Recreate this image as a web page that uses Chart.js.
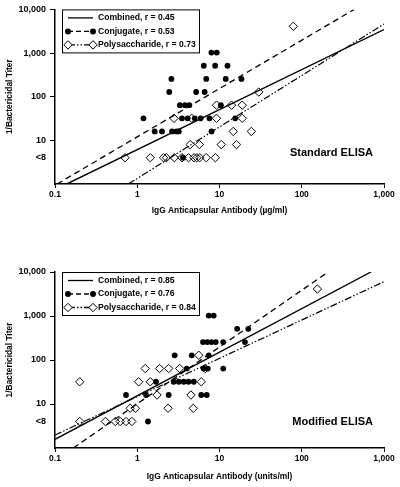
<!DOCTYPE html>
<html>
<head>
<meta charset="utf-8">
<script src="https://cdn.jsdelivr.net/npm/chart.js@4.4.0/dist/chart.umd.min.js"></script>
<style>
body { margin: 0; background: #fff; }
canvas { display: block; }
</style>
</head>
<body>
<canvas id="standard_elisa_chart" width="400" height="240"></canvas>
<canvas id="modified_elisa_chart" width="400" height="247"></canvas>
<script>
// axis ticks (titer "<8" is plotted at 4)
const x_ticks = [0.1, 1, 10, 100, 1000];
const x_tick_labels = ['0.1', '1', '10', '100', '1,000'];
const y_ticks = [4, 10, 100, 1000, 10000];
const y_tick_labels = ['<8', '10', '100', '1,000', '10,000'];

// standard ELISA
const std_conj_x = [7.98, 9.27, 6.44, 8.85, 12.5, 2.6, 6.9, 11.9, 18.5, 2.45, 5.2, 6.6, 3.3, 3.8, 4.3, 10.4,
    1.19, 3.5, 4.1, 5.0, 5.9, 7.55, 15.5, 1.63, 2.0, 2.65, 3.0, 3.2, 8.0, 3.6];
const std_conj_y = [1024, 1024, 512, 512, 512, 256, 256, 256, 256, 128, 128, 128, 64, 64, 64, 64,
    32, 32, 32, 32, 32, 32, 32, 16, 16, 16, 16, 16, 16, 4];
const std_poly_x = [79, 30, 9.2, 14, 18.9, 2.8, 4.6, 9.2, 18.9, 14.7, 24.4, 4.4, 5.7, 10.5, 16.1,
    0.71, 1.44, 2.09, 2.26, 2.82, 3.5, 4.2, 4.9, 5.3, 5.75, 6.9, 8.9];
const std_poly_y = [4096, 128, 64, 64, 64, 32, 32, 32, 32, 16, 16, 8, 8, 8, 8,
    4, 4, 4, 4, 4, 4, 4, 4, 4, 4, 4, 4];
const std_combined_line = [[0.139, 1], [1000, 3450]];
const std_conj_line = [[0.106, 1], [434, 10000]];
const std_poly_line = [[0.78, 1], [1000, 4630]];
const std_legend = ['Combined, r = 0.45', 'Conjugate, r = 0.53', 'Polysaccharide, r = 0.73'];

// modified ELISA
const mod_conj_x = [7.4, 8.5, 16.4, 22.4, 6.3, 7.1, 8.0, 9.0, 11.1, 20.4, 2.85, 4.6, 7.4, 4.0, 6.4, 7.2, 11.1,
    1.69, 2.77, 3.2, 3.67, 4.2, 4.87, 0.73, 1.28, 2.41, 6.0, 7.0, 1.35];
const mod_conj_y = [1024, 1024, 512, 512, 256, 256, 256, 256, 256, 256, 128, 128, 128, 64, 64, 64, 64,
    32, 32, 32, 32, 32, 32, 16, 16, 16, 16, 16, 4];
const mod_poly_x = [155, 5.6, 1.25, 1.87, 2.41, 3.28, 6.7, 0.2, 1.04, 1.44, 6.0, 1.74, 4.5,
    0.82, 0.95, 2.37, 4.8, 0.2, 0.41, 0.54, 0.62, 0.73, 0.86];
const mod_poly_y = [4096, 128, 64, 64, 64, 64, 64, 32, 32, 32, 32, 16, 16,
    8, 8, 8, 8, 4, 4, 4, 4, 4, 4];
const mod_combined_line = [[0.1, 1.58], [695, 10000]];
const mod_conj_line = [[0.167, 1], [206, 9800]];
const mod_poly_line = [[0.1, 1.97], [1000, 6030]];
const mod_legend = ['Combined, r = 0.85', 'Conjugate, r = 0.76', 'Polysaccharide, r = 0.84'];

const font_family = "'Liberation Sans', Arial, Helvetica, sans-serif";
const dash_dot_dot = [7, 2, 1.5, 2, 1.5, 2];

function to_points(xs, ys) {
    return xs.map((x, i) => ({x: x, y: ys[i]}));
}

function draw_marker(ctx, kind, x, y) {
    ctx.beginPath();
    if (kind === 'circle') {
        ctx.arc(x, y, 3, 0, Math.PI * 2);
        ctx.fillStyle = '#000';
        ctx.fill();
    } else {
        ctx.moveTo(x - 4.2, y); ctx.lineTo(x, y - 4.2); ctx.lineTo(x + 4.2, y); ctx.lineTo(x, y + 4.2); ctx.closePath();
        ctx.fillStyle = '#fff';
        ctx.fill();
        ctx.setLineDash([]);
        ctx.lineWidth = 1;
        ctx.stroke();
    }
}

const legend_box = {
    id: 'legend_box',
    afterDatasetsDraw(chart, args, opts) {
        const ctx = chart.ctx;
        const x0 = chart.chartArea.left + 7;
        const y0 = chart.chartArea.top;
        ctx.save();
        ctx.fillStyle = '#fff';
        ctx.fillRect(x0, y0, 137, 43);
        ctx.strokeStyle = '#000';
        ctx.lineWidth = 1;
        ctx.strokeRect(x0 + 0.5, y0 + 0.5, 137, 43);
        const dashes = [[], [5, 3], dash_dot_dot];
        const markers = [null, 'circle', 'diamond'];
        opts.labels.forEach((label, i) => {
            const y = y0 + 8.5 + i * 13.5;
            ctx.strokeStyle = '#000';
            ctx.lineWidth = 1.3;
            ctx.setLineDash(dashes[i]);
            ctx.beginPath();
            ctx.moveTo(x0 + 6, y);
            ctx.lineTo(x0 + 31, y);
            ctx.stroke();
            if (markers[i]) {
                draw_marker(ctx, markers[i], x0 + 6, y);
                draw_marker(ctx, markers[i], x0 + 31, y);
            }
            ctx.setLineDash([]);
            ctx.fillStyle = '#000';
            ctx.font = 'bold 8.6px ' + font_family;
            ctx.textBaseline = 'middle';
            ctx.textAlign = 'left';
            ctx.fillText(label, x0 + 36, y);
        });
        ctx.restore();
    }
};

const panel_label = {
    id: 'panel_label',
    afterDatasetsDraw(chart, args, opts) {
        const ctx = chart.ctx;
        ctx.save();
        ctx.fillStyle = '#000';
        ctx.font = 'bold 11px ' + font_family;
        ctx.textAlign = 'right';
        ctx.textBaseline = 'middle';
        ctx.fillText(opts.text, chart.chartArea.right - 11, chart.chartArea.bottom - opts.offset);
        ctx.restore();
    }
};

function get_elisa_chart(canvas_id, conj_x, conj_y, poly_x, poly_y, combined_line, conj_line, poly_line,
                         legend_labels, panel_text, x_title, pad_top, x_axis_height, x_title_pad, label_offset) {
    const canvas = document.getElementById(canvas_id);
    const x_tick_font = {family: font_family, size: 8.5, weight: 'bold'};
    const y_tick_font = {family: font_family, size: 9, weight: 'bold'};
    const title_font = {family: font_family, size: 8.4, weight: 'bold'};

    new Chart(canvas, {
        type: 'scatter',
        data: {
            datasets: [{
                data: to_points(conj_x, conj_y),
                pointStyle: 'circle',
                pointRadius: 2.9,
                backgroundColor: '#000',
                borderColor: '#000',
                borderWidth: 0,
            }, {
                data: to_points(poly_x, poly_y),
                pointStyle: 'rectRot',
                pointRadius: 4.2,
                backgroundColor: 'rgba(0,0,0,0)',
                borderColor: '#000',
                borderWidth: 1,
            }, {
                data: combined_line.map(p => ({x: p[0], y: p[1]})),
                showLine: true,
                pointRadius: 0,
                borderColor: '#000',
                borderWidth: 1.4,
            }, {
                data: conj_line.map(p => ({x: p[0], y: p[1]})),
                showLine: true,
                pointRadius: 0,
                borderColor: '#000',
                borderWidth: 1.3,
                borderDash: [6, 4],
            }, {
                data: poly_line.map(p => ({x: p[0], y: p[1]})),
                showLine: true,
                pointRadius: 0,
                borderColor: '#000',
                borderWidth: 1.2,
                borderDash: dash_dot_dot,
            }]
        },
        options: {
            responsive: false,
            animation: false,
            layout: {padding: {top: pad_top, right: 16, left: 0, bottom: 0}},
            plugins: {
                legend: false,
                tooltip: {enabled: false},
                legend_box: {labels: legend_labels},
                panel_label: {text: panel_text, offset: label_offset},
            },
            scales: {
                x: {
                    type: 'logarithmic',
                    min: 0.1,
                    max: 1000,
                    afterBuildTicks: s => { s.ticks = x_ticks.map(v => ({value: v})); },
                    afterFit: s => { s.height = x_axis_height; },
                    ticks: {
                        callback: (v, i) => x_tick_labels[i],
                        font: x_tick_font, color: '#000', padding: 2, maxRotation: 0, autoSkip: false
                    },
                    grid: {drawOnChartArea: false, tickLength: 4, color: '#000', lineWidth: 1},
                    border: {color: '#000', width: 1.5},
                    title: {display: true, text: x_title, font: title_font, color: '#000', padding: {top: 0, bottom: x_title_pad}}
                },
                y: {
                    type: 'logarithmic',
                    min: 1,
                    max: 10000,
                    afterBuildTicks: s => { s.ticks = y_ticks.map(v => ({value: v})); },
                    afterFit: s => { s.width = 55; },
                    ticks: {
                        callback: (v, i) => y_tick_labels[i],
                        font: y_tick_font, color: '#000', padding: 4, autoSkip: false
                    },
                    grid: {
                        drawOnChartArea: false, tickLength: 5, lineWidth: 1,
                        color: c => (c.tick && c.tick.value === 4) ? 'rgba(0,0,0,0)' : '#000'
                    },
                    border: {color: '#000', width: 1.5},
                    title: {display: true, text: '1/Bactericidal Titer', font: title_font, color: '#000', padding: {top: 5, bottom: 0}}
                }
            }
        },
        plugins: [legend_box, panel_label]
    });
}

get_elisa_chart('standard_elisa_chart', std_conj_x, std_conj_y, std_poly_x, std_poly_y,
    std_combined_line, std_conj_line, std_poly_line, std_legend, 'Standard ELISA',
    'IgG Anticapsular Antibody (\u00b5g/ml)', 8, 56, 24, 31);
get_elisa_chart('modified_elisa_chart', mod_conj_x, mod_conj_y, mod_poly_x, mod_poly_y,
    mod_combined_line, mod_conj_line, mod_poly_line, mod_legend, 'Modified ELISA',
    'IgG Anticapsular Antibody (units/ml)', 32, 39, 5, 26);
</script>
</body>
</html>
